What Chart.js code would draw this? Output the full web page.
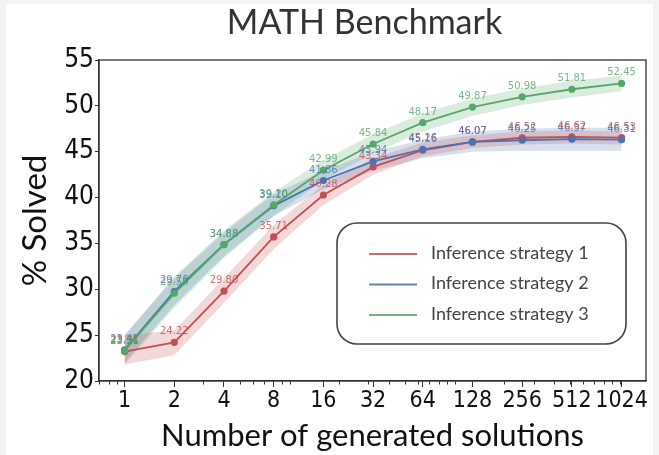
<!DOCTYPE html>
<html><head><meta charset="utf-8">
<script src="https://cdn.jsdelivr.net/npm/chart.js@4.4.0/dist/chart.umd.min.js"></script>
<style>html,body{margin:0;padding:0;background:#fff;overflow:hidden}</style>
</head><body>
<canvas id="c" width="659" height="455"></canvas>
<script>
// ---- data ----
const chartTitle = 'MATH Benchmark';
const solutions = [1, 2, 4, 8, 16, 32, 64, 128, 256, 512, 1024];
const tickLabels = ['1', '2', '4', '8', '16', '32', '64', '128', '256', '512', '1024'];
const yTicks = [20, 25, 30, 35, 40, 45, 50, 55];
const seriesNames = ['Inference strategy 1', 'Inference strategy 2', 'Inference strategy 3'];
const strategy1 = [23.21, 24.22, 29.80, 35.71, 40.28, 43.34, 45.16, 46.07, 46.52, 46.62, 46.53];
const strategy2 = [23.41, 29.76, 34.88, 39.10, 41.86, 43.94, 45.26, 46.07, 46.25, 46.37, 46.31];
const strategy3 = [23.31, 29.56, 34.88, 39.20, 42.99, 45.84, 48.17, 49.87, 50.98, 51.81, 52.45];
const strategy1Low  = [21.8, 22.8, 28.5, 34.4, 39.2, 42.5, 44.5, 45.4, 45.8, 45.9, 45.8];
const strategy1High = [25.0, 25.5, 31.2, 37.0, 41.4, 44.3, 46.0, 46.8, 47.2, 47.3, 47.2];
const strategy2Low  = [22.0, 28.3, 33.6, 38.0, 40.9, 42.9, 44.3, 45.0, 45.1, 45.1, 45.1];
const strategy2High = [25.0, 31.2, 36.2, 40.4, 42.9, 45.0, 46.3, 47.2, 47.5, 47.6, 47.6];
const strategy3Low  = [21.8, 28.0, 33.4, 38.0, 41.9, 44.8, 47.2, 48.9, 50.1, 50.9, 51.6];
const strategy3High = [25.0, 31.4, 36.4, 40.6, 44.1, 46.9, 49.2, 50.8, 51.9, 52.7, 53.3];
const minorTickValues = [0.7, 0.8, 0.9, 3, 5, 6, 7, 9, 10, 20, 30, 40, 50, 60, 70, 80, 90, 100, 200, 300, 400, 500, 600, 700, 800, 900, 1000];

const colors = ['#c44e52', '#4c72b0', '#55a868'];
const bandColors = ['rgba(196,78,82,0.22)', 'rgba(76,114,176,0.22)', 'rgba(85,168,104,0.22)'];

const pts = arr => solutions.map((x, i) => ({x: x, y: arr[i]}));
const mains = [strategy1, strategy2, strategy3];
const lows = [strategy1Low, strategy2Low, strategy3Low];
const highs = [strategy1High, strategy2High, strategy3High];

const datasets = [];
for (let s = 0; s < 3; s++) {
  datasets.push({label: 'low' + s, data: pts(lows[s]), borderWidth: 0, pointRadius: 0, fill: false, order: 10, isBand: true});
  datasets.push({label: 'high' + s, data: pts(highs[s]), borderWidth: 0, pointRadius: 0, fill: {target: s * 2}, backgroundColor: bandColors[s], order: 10, isBand: true});
}
for (let s = 0; s < 3; s++) {
  datasets.push({label: seriesNames[s], data: pts(mains[s]), borderColor: colors[s], backgroundColor: colors[s],
    borderWidth: 1.8, pointRadius: 3.6, pointBorderWidth: 0, pointBackgroundColor: colors[s], fill: false, order: 3 - s, isMain: true, seriesIndex: s});
}

const bgPlugin = {
  id: 'bg',
  beforeDraw(chart) {
    const ctx = chart.ctx;
    ctx.save();
    ctx.fillStyle = '#f3f3f3';
    ctx.fillRect(0, 0, chart.width, chart.height);
    ctx.fillStyle = '#ffffff';
    ctx.fillRect(6, 4, chart.width - 12, chart.height - 4);
    ctx.restore();
  }
};

const titlePlugin = {
  id: 'areaTitle',
  afterDraw(chart) {
    const {ctx, chartArea: a} = chart;
    ctx.save();
    ctx.font = '34px Lato';
    ctx.fillStyle = '#333';
    ctx.textAlign = 'center';
    ctx.textBaseline = 'middle';
    ctx.fillText(chartTitle, (a.left + a.right) / 2 - 8, 23);
    ctx.restore();
  }
};

const framePlugin = {
  id: 'frame',
  afterDraw(chart) {
    const {ctx, chartArea: a, scales} = chart;
    ctx.save();
    ctx.strokeStyle = '#333';
    ctx.lineWidth = 1.3;
    ctx.strokeRect(a.left, a.top, a.right - a.left, a.bottom - a.top);
    ctx.lineWidth = 1;
    ctx.beginPath();
    minorTickValues.forEach(v => {
      const x = Math.round(scales.x.getPixelForValue(v)) + 0.5;
      if (x < a.left || x > a.right) return;
      ctx.moveTo(x, a.bottom);
      ctx.lineTo(x, a.bottom + 3.5);
    });
    ctx.stroke();
    ctx.restore();
  }
};

const labelPlugin = {
  id: 'pointLabels',
  afterDatasetsDraw(chart) {
    const ctx = chart.ctx;
    ctx.save();
    ctx.font = '10px "DejaVu Sans"';
    ctx.textAlign = 'center';
    ctx.textBaseline = 'alphabetic';
    ctx.globalAlpha = 0.8;
    chart.data.datasets.forEach((ds, di) => {
      if (!ds.isMain) return;
      const meta = chart.getDatasetMeta(di);
      ctx.fillStyle = ds.borderColor;
      meta.data.forEach((el, i) => {
        ctx.fillText(ds.data[i].y.toFixed(2), el.x, el.y - 8);
      });
    });
    ctx.restore();
  }
};

const legendPlugin = {
  id: 'boxLegend',
  afterDraw(chart) {
    const ctx = chart.ctx;
    const x0 = 337, y0 = 223, w = 289, h = 121, r = 20;
    ctx.save();
    ctx.fillStyle = 'rgba(255,255,255,0.9)';
    ctx.strokeStyle = '#444';
    ctx.lineWidth = 1.6;
    ctx.beginPath();
    ctx.roundRect(x0, y0, w, h, r);
    ctx.fill();
    ctx.stroke();
    ctx.font = '18px Lato';
    ctx.textBaseline = 'middle';
    ctx.textAlign = 'left';
    const mainsDs = chart.data.datasets.filter(d => d.isMain);
    mainsDs.forEach((ds, i) => {
      const y = 253 + i * 30.5;
      ctx.strokeStyle = ds.borderColor;
      ctx.globalAlpha = 0.85;
      ctx.lineWidth = 2;
      ctx.beginPath();
      ctx.moveTo(369, y + 1);
      ctx.lineTo(417, y + 1);
      ctx.stroke();
      ctx.globalAlpha = 1;
      ctx.fillStyle = '#444';
      ctx.fillText(ds.label, 431, y);
    });
    ctx.restore();
  }
};

new Chart(document.getElementById('c'), {
  type: 'line',
  data: {datasets: datasets},
  options: {
    responsive: false,
    animation: false,
    devicePixelRatio: 1,
    layout: {padding: {left: 0, right: 13, top: 60, bottom: 0}},
    plugins: {
      legend: {display: false},
      tooltip: {enabled: false},
      filler: {drawTime: 'beforeDatasetsDraw'},
      title: {display: false}
    },
    scales: {
      x: {
        type: 'logarithmic',
        min: 0.7,
        max: 1440,
        afterBuildTicks: s => { s.ticks = solutions.map(v => ({value: v})); },
        afterFit: s => { s.height = 74; },
        ticks: {
          autoSkip: false,
          maxRotation: 0,
          padding: 0,
          color: '#111',
          font: {family: '"DejaVu Sans Condensed", "DejaVu Sans"', size: 23},
          callback: (v, i) => tickLabels[i]
        },
        grid: {drawOnChartArea: false, drawTicks: true, tickLength: 6, color: '#333'},
        border: {display: true, color: '#333', width: 1.3},
        title: {
          display: true,
          text: 'Number of generated solutions',
          font: {family: 'Lato', size: 31},
          color: '#111',
          padding: {top: 0, bottom: 0}
        }
      },
      y: {
        min: 20,
        max: 55,
        afterBuildTicks: s => { s.ticks = yTicks.map(v => ({value: v})); },
        afterFit: s => { s.width = 99; },
        ticks: {
          padding: 1,
          color: '#111',
          font: {family: '"DejaVu Sans Condensed", "DejaVu Sans"', size: 26}
        },
        grid: {drawOnChartArea: false, drawTicks: true, tickLength: 4, color: '#333'},
        border: {display: true, color: '#333', width: 1.3},
        title: {
          display: true,
          text: '% Solved',
          font: {family: 'Lato', size: 33},
          color: '#111',
          padding: {top: 16, bottom: 0}
        }
      }
    }
  },
  plugins: [bgPlugin, framePlugin, labelPlugin, legendPlugin, titlePlugin]
});
</script>
</body></html>
